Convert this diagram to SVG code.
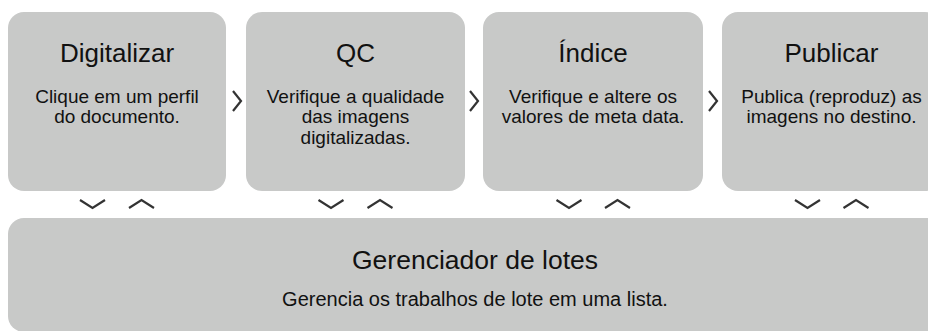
<svg xmlns="http://www.w3.org/2000/svg" width="928" height="331" viewBox="0 0 928 331">
<style>
.box{fill:#c8c9c8}
.t{font-family:"Liberation Sans",Arial,sans-serif;font-size:26px;fill:#111;text-anchor:middle}
.b{font-family:"Liberation Sans",Arial,sans-serif;font-size:19px;fill:#111;text-anchor:middle}
.ch{fill:none;stroke:#333;stroke-width:2.2;stroke-linecap:butt;stroke-linejoin:miter}
</style>
<rect width="928" height="331" fill="#fff"/>
<g id="digitalizar">
<rect class="box" x="8" y="12" width="218" height="179" rx="16"/>
<text class="t" x="117" y="62">Digitalizar</text>
<text class="b" x="117" y="103">Clique em um perfil</text>
<text class="b" x="117" y="123">do documento.</text>
</g>
<g id="qc">
<rect class="box" x="246" y="12" width="219" height="179" rx="16"/>
<text class="t" x="355.5" y="62">QC</text>
<text class="b" x="355.5" y="103">Verifique a qualidade</text>
<text class="b" x="355.5" y="123">das imagens</text>
<text class="b" x="355.5" y="144">digitalizadas.</text>
</g>
<g id="indice">
<rect class="box" x="483" y="12" width="220" height="179" rx="16"/>
<text class="t" x="593" y="62">Índice</text>
<text class="b" x="593" y="103">Verifique e altere os</text>
<text class="b" x="593" y="123">valores de meta data.</text>
</g>
<g id="publicar">
<rect class="box" x="722" y="12" width="219" height="179" rx="16"/>
<text class="t" x="831.5" y="62">Publicar</text>
<text class="b" x="831.5" y="103">Publica (reproduz) as</text>
<text class="b" x="831.5" y="123">imagens no destino.</text>
</g>
<g id="gerenciador">
<rect class="box" x="8" y="218" width="934" height="114" rx="16"/>
<text class="t" x="475" y="269" style="font-size:26.5px">Gerenciador de lotes</text>
<text class="b" x="475" y="306" style="font-size:20px">Gerencia os trabalhos de lote em uma lista.</text>
</g>
<g id="connectors">
<polyline class="ch" points="233,91 241,101 233,111"/>
<polyline class="ch" points="470,91 478,101 470,111"/>
<polyline class="ch" points="709,91 717,101 709,111"/>
<polyline class="ch" points="80,200 92.5,208 105,200"/>
<polyline class="ch" points="129,208 141.5,200 154,208"/>
<polyline class="ch" points="318.5,200 331,208 343.5,200"/>
<polyline class="ch" points="367.5,208 380,200 392.5,208"/>
<polyline class="ch" points="556.5,200 569,208 581.5,200"/>
<polyline class="ch" points="605,208 617.5,200 630,208"/>
<polyline class="ch" points="795,200 807.5,208 820,200"/>
<polyline class="ch" points="843.5,208 856,200 868.5,208"/>
</g>
</svg>
